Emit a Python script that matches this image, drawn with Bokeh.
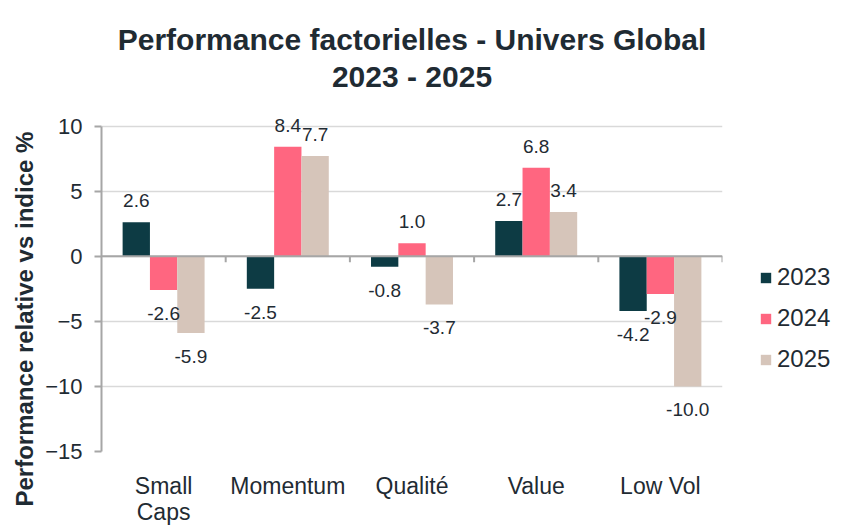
from bokeh.plotting import figure
from bokeh.models import (ColumnDataSource, FixedTicker, Legend, LegendItem,
                          Range1d, LabelSet, Title, Span)
from bokeh.core.properties import value
from bokeh.embed import file_html
from bokeh.resources import INLINE

# ---- data ----
categories = ["Small Caps", "Momentum", "Qualité", "Value", "Low Vol"]
tick_labels = ["Small\nCaps", "Momentum", "Qualité", "Value", "Low Vol"]
years = ["2023", "2024", "2025"]
v2023 = [2.6, -2.5, -0.8, 2.7, -4.2]
v2024 = [-2.6, 8.4, 1.0, 6.8, -2.9]
v2025 = [-5.9, 7.7, -3.7, 3.4, -10.0]
y_ticks = [-15, -10, -5, 0, 5, 10]

series = [v2023, v2024, v2025]
colors = ["#0d3b44", "#ff6680", "#d6c5ba"]
FONT = "Liberation Sans"
TXT = "#1f2b33"
AXC = "#a6a6a6"
BAR_W = 0.22

centers = [i + 0.5 for i in range(len(categories))]
bounds = [i + 1 for i in range(len(categories))]

p = figure(frame_width=621, frame_height=345,
           x_range=Range1d(0, len(categories)), y_range=Range1d(-15, 11.5),
           output_backend="svg", toolbar_location=None,
           min_border_left=101, min_border_right=128, min_border_top=106, min_border_bottom=75)
p.outline_line_color = None
p.title = None

# grid
p.xgrid.grid_line_color = None
p.ygrid.ticker = FixedTicker(ticks=y_ticks)
p.ygrid.grid_line_color = "#d9d9d9"
p.ygrid.grid_line_width = 1.5

# y axis
ya = p.yaxis[0]
ya.ticker = FixedTicker(ticks=y_ticks)
ya.bounds = (min(y_ticks), max(y_ticks))
ya.axis_line_color = AXC
ya.axis_line_width = 2
ya.major_tick_line_color = AXC
ya.major_tick_line_width = 2
ya.major_tick_out = 7
ya.major_tick_in = 0
ya.minor_tick_line_color = None
ya.major_label_standoff = 12
ya.major_label_text_font = FONT
ya.major_label_text_font_size = "22px"
ya.major_label_text_color = TXT

# y axis title (side title, shifted along the axis)
p.add_layout(Title(text="Performance relative vs indice %", align="left", offset=-55,
                   standoff=10, text_font=FONT, text_font_size="24px",
                   text_font_style="bold", text_color=TXT), "left")

# x axis (category labels)
xa = p.xaxis[0]
xa.ticker = FixedTicker(ticks=centers)
xa.major_label_overrides = {c: t for c, t in zip(centers, tick_labels)}
xa.axis_line_color = None
xa.major_tick_line_color = None
xa.minor_tick_line_color = None
xa.major_label_standoff = 15
xa.major_label_text_font = FONT
xa.major_label_text_font_size = "23px"
xa.major_label_text_line_height = 1.0
xa.major_label_text_color = TXT

# titles (line 2 added first: closest to the plot)
p.add_layout(Title(text="2023 - 2025", align="center", standoff=27,
                   text_font=FONT, text_font_size="30px", text_font_style="bold",
                   text_color=TXT), "above")
p.add_layout(Title(text="Performance factorielles - Univers Global", align="center",
                   standoff=-22, text_font=FONT, text_font_size="30px", text_font_style="bold",
                   text_color=TXT), "above")

# zero line with category separators
p.add_layout(Span(location=0, dimension="width", line_color=AXC, line_width=2))
sep_len = -6 / 13.0
p.segment(x0=bounds, y0=[0] * len(bounds), x1=bounds, y1=[sep_len] * len(bounds),
          line_color=AXC, line_width=2)

# bars and labels
items = []
for j, (yr, vals, col) in enumerate(zip(years, series, colors)):
    xs = [c + (j - 1) * BAR_W for c in centers]
    src = ColumnDataSource(dict(
        x=xs, top=vals,
        lab=[f"{v:.1f}" for v in vals],
        yoff=[15 if v >= 0 else -30 for v in vals],
    ))
    r = p.vbar(x="x", top="top", bottom=0, width=BAR_W, source=src,
               fill_color=col, line_color=None)
    items.append(LegendItem(label=yr, renderers=[r]))
    ls = LabelSet(x="x", y="top", text="lab", source=src, y_offset="yoff",
                  text_align="center", text_baseline="alphabetic",
                  text_font=value(FONT), text_font_size=value("19px"), text_color=TXT)
    p.add_layout(ls)

legend = Legend(items=items, location=(37, 78), orientation="vertical",
                glyph_width=13, glyph_height=13, label_height=20, spacing=13,
                label_standoff=5, padding=0, margin=0,
                label_text_font=FONT, label_text_font_size="24px", label_text_color=TXT,
                background_fill_alpha=0, border_line_color=None)
p.add_layout(legend, "right")

open("out.html", "w").write(file_html(p, INLINE))
